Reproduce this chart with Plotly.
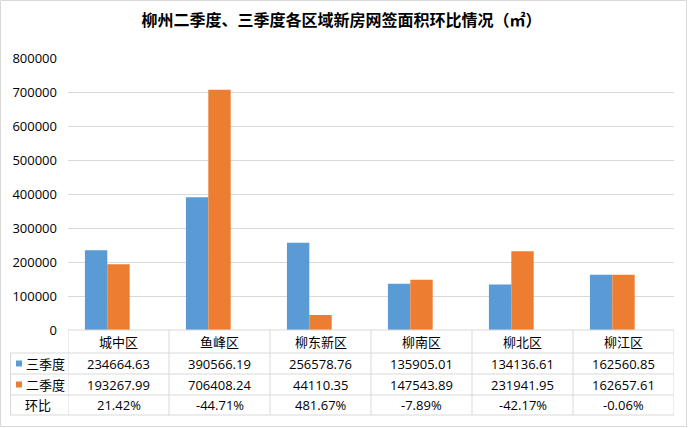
import plotly.graph_objects as go

categories = ["城中区", "鱼峰区", "柳东新区", "柳南区", "柳北区", "柳江区"]
q3_values = [234664.63, 390566.19, 256578.76, 135905.01, 134136.61, 162560.85]
q2_values = [193267.99, 706408.24, 44110.35, 147543.89, 231941.95, 162657.61]
ratio_values = [0.2142, -0.4471, 4.8167, -0.0789, -0.4217, -0.0006]
series_names = ["三季度", "二季度", "环比"]
colors = ["#5b9bd5", "#ed7d31", "#a5a5a5"]
title_text = "柳州二季度、三季度各区域新房网签面积环比情况（㎡）"

W, H = 688, 428
L, R, T, B = 68, 674, 58, 330  # plot area in pixels
FONT = "Open Sans, Noto Sans CJK SC, sans-serif"
TITLE_FONT = "Noto Sans CJK SC, sans-serif"
GRID = "#d9d9d9"


def px_x(p):
    return (p - L) / (R - L)


def px_y(p):
    return (B - p) / (B - T)


fig = go.Figure()
for name, vals, col in zip(series_names, [q3_values, q2_values, ratio_values], colors):
    fig.add_trace(go.Bar(x=categories, y=vals, name=name, marker=dict(color=col, line=dict(width=0))))

shapes = []
annotations = []

# outer chart border
shapes.append(dict(type="rect", xref="paper", yref="paper",
                   x0=px_x(0.5), x1=px_x(686.5), y0=px_y(0.5), y1=px_y(426.5),
                   line=dict(color=GRID, width=1), layer="below"))

# table grid
row_lines = [353, 374, 395, 415]
for yl in row_lines:
    shapes.append(dict(type="line", xref="paper", yref="paper",
                       x0=px_x(10.5), x1=1, y0=px_y(yl), y1=px_y(yl),
                       line=dict(color=GRID, width=1)))
shapes.append(dict(type="line", xref="paper", yref="paper", x0=0, x1=1,
                   y0=0, y1=0, line=dict(color=GRID, width=1)))
for k in range(len(categories) + 1):
    shapes.append(dict(type="line", xref="x", yref="paper", x0=k - 0.5, x1=k - 0.5,
                       y0=0, y1=px_y(415), line=dict(color=GRID, width=1)))
shapes.append(dict(type="line", xref="paper", yref="paper", x0=px_x(10.5), x1=px_x(10.5),
                   y0=px_y(353), y1=px_y(415), line=dict(color=GRID, width=1)))

row_centers = [363.5, 384.5, 405]
header_center = 341.5
tf = dict(family=FONT, size=13, color="#000000")

for i, c in enumerate(categories):
    cells = [c, f"{q3_values[i]:.2f}", f"{q2_values[i]:.2f}", f"{ratio_values[i] * 100:.2f}%"]
    for txt, yc in zip(cells, [header_center] + row_centers):
        annotations.append(dict(x=c, y=px_y(yc), xref="x", yref="paper", text=txt,
                                showarrow=False, font=tf, xanchor="center", yanchor="middle"))

# row labels with legend keys
for name, col, yc in zip(series_names[:2], colors[:2], row_centers[:2]):
    shapes.append(dict(type="rect", xref="paper", yref="paper",
                       x0=px_x(16), x1=px_x(22), y0=px_y(yc + 3), y1=px_y(yc - 3),
                       fillcolor=col, line=dict(width=0)))
    annotations.append(dict(x=px_x(23.5), y=px_y(yc), xref="paper", yref="paper", text=name,
                            showarrow=False, font=tf, xanchor="left", yanchor="middle"))
annotations.append(dict(x=px_x(38), y=px_y(row_centers[2]), xref="paper", yref="paper",
                        text=series_names[2], showarrow=False, font=tf,
                        xanchor="center", yanchor="middle"))

fig.update_layout(
    width=W, height=H,
    margin=dict(l=L, r=W - R, t=T, b=H - B, pad=0),
    paper_bgcolor="white", plot_bgcolor="white",
    showlegend=False,
    barmode="group", bargap=0.335, bargroupgap=0,
    title=dict(text=f"<b>{title_text}</b>", x=341.5 / W, xref="container", xanchor="center",
               y=1 - 20.5 / H, yref="container", yanchor="middle",
               font=dict(family=TITLE_FONT, size=16, color="#000000")),
    xaxis=dict(type="category", range=[-0.5, len(categories) - 0.5], showticklabels=False,
               showgrid=False, zeroline=False, showline=False, ticks="", fixedrange=True),
    yaxis=dict(range=[0, 800000], dtick=100000, tickformat="d", showgrid=True,
               gridcolor=GRID, gridwidth=1, zeroline=False, showline=False, ticks="",
               ticklabelstandoff=10,
               tickfont=dict(family=FONT, size=13, color="#000000")),
    shapes=shapes,
    annotations=annotations,
)

fig.write_html("out.html")
